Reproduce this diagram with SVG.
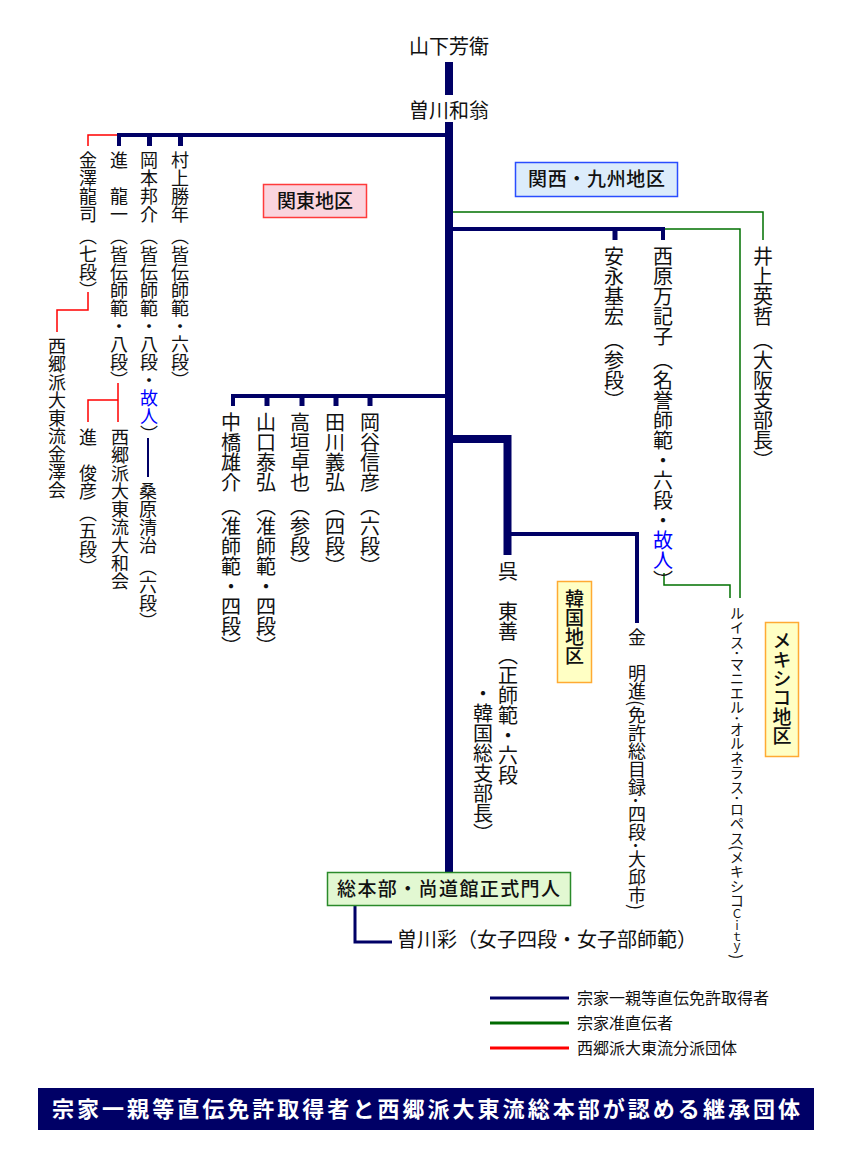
<svg xmlns="http://www.w3.org/2000/svg" width="849" height="1165" viewBox="0 0 849 1165">
<style>
text { font-family: "Noto Sans CJK JP", "Noto Sans CJK SC", sans-serif; fill: #111; }
.v { writing-mode: vertical-rl; }
.s15 { font-size: 14.5px; }
.s18 { font-size: 18px; }
.s20 { font-size: 20px; }
.dead { fill: #0000ff; }
.navy { stroke: #000066; fill: none; }
.green { stroke: #007000; fill: none; stroke-width: 1.5; }
.red { stroke: #ff0000; fill: none; stroke-width: 1.5; }
.w4 { stroke-width: 4; }
.tick { stroke-width: 5; }
.lbl { font-size: 19px; font-weight: 500; }
.leg { font-size: 16px; }
</style>
<rect x="0" y="0" width="849" height="1165" fill="#ffffff"/>

<g id="connectors">
  <rect x="445" y="62" width="8" height="33" fill="#000066"/>
  <rect x="445" y="122" width="8" height="750" fill="#000066"/>
  <path class="navy w4" d="M119,146 V135 H449"/>
  <path class="navy tick" d="M149.5,135 V146 M180.5,135 V146"/>
  <path class="red" d="M117,135 H88 V146"/>
  <path class="red" d="M88,292 V310 H57 V332"/>
  <path class="red" d="M118,383 V422 M88,422 V400 H118"/>
  <path class="navy" stroke-width="2" d="M148,438 V477"/>
  <path class="navy w4" d="M233,406 V396 H449"/>
  <path class="navy tick" d="M267,396 V406 M302,396 V406 M336,396 V406 M370,396 V406"/>
  <path class="navy w4" d="M449,229 H663 V240"/>
  <path class="navy tick" d="M615,229 V240"/>
  <path class="green" d="M453,212 H763 V240"/>
  <path class="green" d="M665,229 H740 V598"/>
  <path class="green" d="M664,573 V585 H730 V598"/>
  <path class="navy" stroke-width="8" d="M449,439 H507.5 V555"/>
  <path class="navy w4" d="M511,534 H637 V623"/>
  <path class="navy" stroke-width="3" d="M355,906 V942 H392"/>
</g>

<g id="n-yamashita"><text class="s20" x="449" y="54" text-anchor="middle">山下芳衛</text></g>
<g id="n-sogawa"><text class="s20" x="449" y="118" text-anchor="middle">曽川和翁</text></g>

<g id="box-kanto">
  <rect x="263.5" y="184.5" width="103" height="33" fill="#fad4de" stroke="#ff3b3b" stroke-width="1.5"/>
  <text class="lbl" x="315" y="208" text-anchor="middle">関東地区</text>
</g>
<g id="box-kansai">
  <rect x="515.5" y="162.5" width="162" height="34" fill="#dcecfb" stroke="#2a4dff" stroke-width="1.5"/>
  <text class="lbl" x="528" y="186" textLength="137" lengthAdjust="spacing">関西・九州地区</text>
</g>
<g id="box-korea">
  <rect x="557.5" y="581.5" width="34" height="101" fill="#ffffc4" stroke="#ffaa33" stroke-width="1.5"/>
  <text class="v lbl" x="574.5" y="589">韓国地区</text>
</g>
<g id="box-mexico">
  <rect x="765.5" y="622.5" width="33" height="134" fill="#ffffc4" stroke="#ffaa33" stroke-width="1.5"/>
  <text class="v lbl" x="782" y="631">メキシコ地区</text>
</g>
<g id="box-honbu">
  <rect x="327.5" y="872.5" width="243" height="33" fill="#e2f8d2" stroke="#2a8a2a" stroke-width="1.5"/>
  <text class="lbl" x="337" y="896" textLength="223" lengthAdjust="spacing">総本部・尚道館正式門人</text>
</g>

<g id="n-kanazawa"><text class="v s18" x="88" y="151">金澤龍司 （七段）</text></g>
<g id="n-shin-ryuichi"><text class="v s18" x="119" y="151">進　龍一 （皆伝師範・八段）</text></g>
<g id="n-okamoto"><text class="v s18" x="149" y="151">岡本邦介 （皆伝師範・八段・<tspan class="dead">故人</tspan>）</text></g>
<g id="n-murakami"><text class="v s18" x="180" y="151">村上勝年 （皆伝師範・六段）</text></g>
<g id="n-kanazawakai"><text class="v s18" x="57" y="337">西郷派大東流金澤会</text></g>
<g id="n-shin-toshihiko"><text class="v s18" x="88" y="428">進　俊彦 （五段）</text></g>
<g id="n-yamatokai"><text class="v s18" x="120" y="428">西郷派大東流大和会</text></g>
<g id="n-kuwabara"><text class="v s18" x="148" y="482">桑原清治 （六段）</text></g>

<g id="n-nakahashi"><text class="v s20" x="231" y="412">中橋雄介 （准師範・四段）</text></g>
<g id="n-yamaguchi"><text class="v s20" x="266" y="412">山口泰弘 （准師範・四段）</text></g>
<g id="n-takagaki"><text class="v s20" x="300" y="412">高垣卓也 （参段）</text></g>
<g id="n-tagawa"><text class="v s20" x="335" y="412">田川義弘 （四段）</text></g>
<g id="n-okaya"><text class="v s20" x="370" y="412">岡谷信彦 （六段）</text></g>

<g id="n-yasunaga"><text class="v s20" x="614" y="246">安永基宏 （参段）</text></g>
<g id="n-nishihara"><text class="v s20" x="663" y="246">西原万記子 （名誉師範・六段・<tspan class="dead">故人</tspan>）</text></g>
<g id="n-inoue"><text class="v s20" x="763" y="246">井上英哲 （大阪支部長）</text></g>

<g id="n-go">
  <text class="v s20" x="508" y="561">呉　東善 （正師範・六段</text>
  <text class="v s20" x="483" y="683">・韓国総支部長）</text>
</g>
<g id="n-kim"><text class="v s18" x="637" y="628">金　明進(免許総目録･四段･大邱市)</text></g>
<g id="n-luis"><text class="v s15" x="737" y="606">ルイス･マニエル･オルネラス･ロペス(メキシコ<tspan font-size="11.5">Ｃｉｔｙ</tspan>)</text></g>

<g id="n-aya"><text class="s20" x="397" y="947">曽川彩（女子四段・女子部師範）</text></g>

<g id="legend">
  <line x1="490" y1="998" x2="569" y2="998" stroke="#000066" stroke-width="3"/>
  <line x1="490" y1="1023" x2="569" y2="1023" stroke="#006a00" stroke-width="3"/>
  <line x1="490" y1="1048" x2="569" y2="1048" stroke="#ff0000" stroke-width="3"/>
  <text class="leg" x="577" y="1004">宗家一親等直伝免許取得者</text>
  <text class="leg" x="577" y="1029">宗家准直伝者</text>
  <text class="leg" x="577" y="1054">西郷派大東流分派団体</text>
</g>

<g id="title">
  <rect x="38" y="1088" width="776" height="42" fill="#000066"/>
  <text x="52" y="1117" font-size="22" font-weight="bold" style="fill:#ffffff" textLength="748" lengthAdjust="spacing">宗家一親等直伝免許取得者と西郷派大東流総本部が認める継承団体</text>
</g>
</svg>
